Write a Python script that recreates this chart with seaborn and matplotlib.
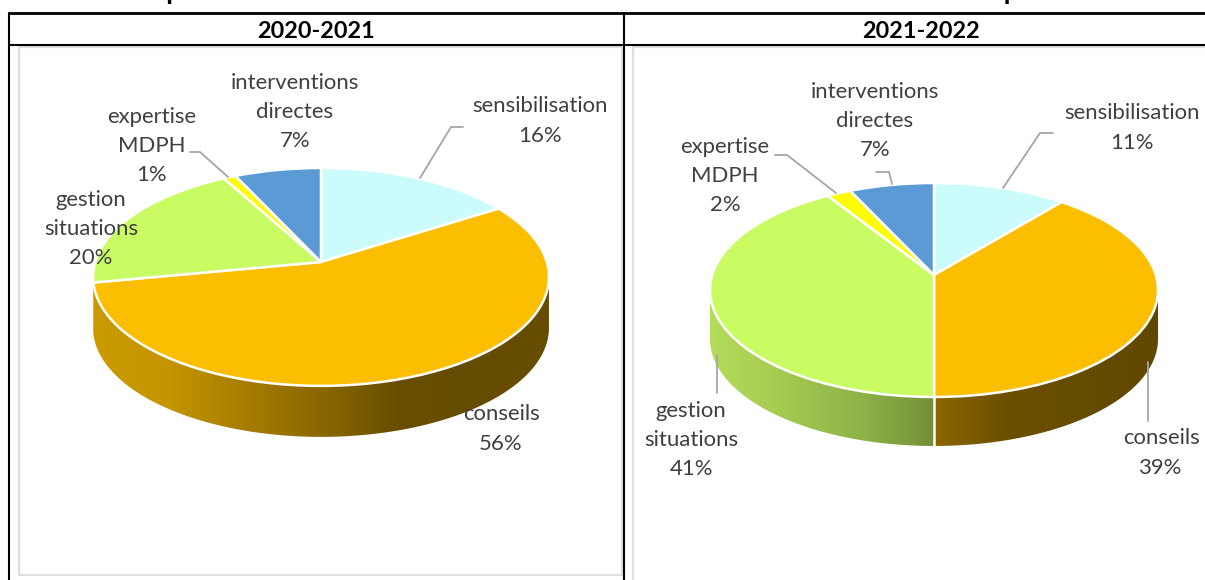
import numpy as np
import seaborn as sns
import matplotlib.pyplot as plt
from matplotlib.colors import LinearSegmentedColormap
from matplotlib.patches import Polygon
from matplotlib.transforms import Transform

sns.set_theme(style="white")
plt.rcParams["font.family"] = ["Lato", "DejaVu Sans"]

# =========================
# Data
# =========================
title = "Répartition des interventions de l'EMA selon la nature de l'intervention par année"
periods = ["2020-2021", "2021-2022"]
categories = ["sensibilisation", "conseils", "gestion\nsituations", "expertise\nMDPH", "interventions\ndirectes"]
values_2021 = [16, 56, 20, 1, 7]
values_2022 = [11, 39, 41, 2, 7]
palette = sns.color_palette(["#CCFBFB", "#FCBE00", "#C9FB62", "#FCFB00", "#5B9BD5"])

TEXT = "#404040"
LEADER = "#A6A6A6"
FRAME = "#DEDEDE"


# =========================
# Perspective of the pie top
# =========================
class Perspective(Transform):
    input_dims = 2
    output_dims = 2

    def __init__(self, cx, cy, rx, ry, k):
        super().__init__()
        self.cx, self.cy, self.rx, self.ry, self.k = cx, cy, rx, ry, k

    def transform_non_affine(self, values):
        values = np.asarray(values)
        d = 1 + self.k * values[:, 1]
        return np.column_stack([
            self.cx + self.rx * values[:, 0] / d,
            self.cy - self.ry * values[:, 1] / d,
        ])


def wall(ax, persp, a1, a2, stops, depth):
    # a1, a2 are clockwise angles from the top, in degrees
    t = np.radians(np.linspace(a1, a2, 120))
    unit = np.column_stack([np.sin(t), np.cos(t)])
    top = persp.transform(unit)
    bottom = top + [0, depth]
    poly = Polygon(np.vstack([top, bottom[::-1]]), closed=True, fc="none", ec="none")
    ax.add_patch(poly)
    x0, x1 = min(top[:, 0]), max(top[:, 0])
    cmap = LinearSegmentedColormap.from_list("wall", stops)
    im = ax.imshow(
        np.linspace(0, 1, 256)[None, :],
        cmap=cmap,
        extent=[x0, x1, top[:, 1].max() + depth + 1, top[:, 1].min()],
        aspect="auto",
        zorder=1,
    )
    im.set_clip_path(poly)


def draw_pie(ax, values, persp, depth, walls):
    edges = np.cumsum([0] + values) * 3.6
    for i, stops in walls.items():
        a1, a2 = edges[i], edges[i + 1]
        # only the front side of the drum is visible
        wall(ax, persp, max(a1, 97.9), min(a2, 262.1), stops, depth)
        if 100 < a2 < 250:
            t = np.radians(a2)
            p = persp.transform(np.array([[np.sin(t), np.cos(t)]]))[0]
            ax.plot([p[0], p[0]], [p[1], p[1] + depth], color="white", lw=1.8, zorder=2)
    wedges, _ = ax.pie(
        values,
        colors=palette,
        startangle=90,
        counterclock=False,
        wedgeprops={"edgecolor": "white", "linewidth": 1.8},
    )
    for w in wedges:
        w.set_transform(persp + ax.transData)
        w.set_zorder(3)


def draw_labels(ax, values, positions):
    for name, v, (x, y) in zip(categories, values, positions):
        ax.text(x, y, f"{name}\n{v}%", ha="center", va="center", fontsize=15.9,
                color=TEXT, linespacing=1.57, zorder=5)


# =========================
# Figure
# =========================
fig = plt.figure(figsize=(12.05, 5.8), dpi=100)
ax = fig.add_axes([0, 0, 1, 1])

orange_left = ["#CB9B00", "#C49500", "#A67D00", "#8A6800", "#694E00", "#664C00", "#664C00"]
sliver_left = ["#CB9B00", "#CB9B00"]
orange_right = ["#8C6700", "#6B4F00", "#664C00", "#604700"]
green_right = ["#B5DB5B", "#A4C950", "#90B348", "#738F3A"]

draw_pie(ax, values_2021, Perspective(321, 262, 225.8, 106.9, 0.137), 51, {1: orange_left, 2: sliver_left})
draw_pie(ax, values_2022, Perspective(934, 275, 221.8, 104.9, 0.14), 49, {1: orange_right, 2: green_right})

# leader lines
leaders = [
    ([420, 451, 463], [178, 127, 127]),
    ([190, 200, 228], [152, 152, 177]),
    ([1003, 1040, 1053], [188, 133, 133]),
    ([775, 787, 836], [155, 155, 193]),
    ([876, 889, 892], [172, 172, 184]),
    ([717, 717], [355, 393]),
    ([1148, 1148], [362, 421]),
]
for xs, ys in leaders:
    ax.plot(xs, ys, color=LEADER, lw=1.3, zorder=4)

draw_labels(ax, values_2021, [(540, 121), (501, 429), (91, 229), (152, 146), (295, 112)])
draw_labels(ax, values_2022, [(1132, 128), (1161, 453), (691, 440), (725, 176), (875, 121)])

# chart frames
ax.plot([19, 19, 622, 622, 19], [47, 575, 575, 47, 47], color=FRAME, lw=1.6, zorder=0)
ax.plot([1205, 633, 633], [47, 47, 580], color=FRAME, lw=1.6, zorder=0)

# table lines
ax.plot([9, 1205], [13, 13], color="black", lw=2, zorder=6)
ax.plot([9, 1205], [45, 45], color="black", lw=1.5, zorder=6)
for x in [9, 624]:
    ax.plot([x, x], [13, 580], color="black", lw=1.5, zorder=6)

ax.text(134, 0.5, title, ha="left", va="baseline", fontsize=19.7, fontweight="bold", color="black")
ax.text(316.5, 31.5, periods[0], ha="center", va="center", fontsize=16.8, fontweight="bold", color="black")
ax.text(921, 31.5, periods[1], ha="center", va="center", fontsize=16.8, fontweight="bold", color="black")

ax.set_aspect("auto")
ax.set_xlim(0, 1205)
ax.set_ylim(580, 0)
ax.axis("off")

fig.savefig("out.png", dpi=100)
